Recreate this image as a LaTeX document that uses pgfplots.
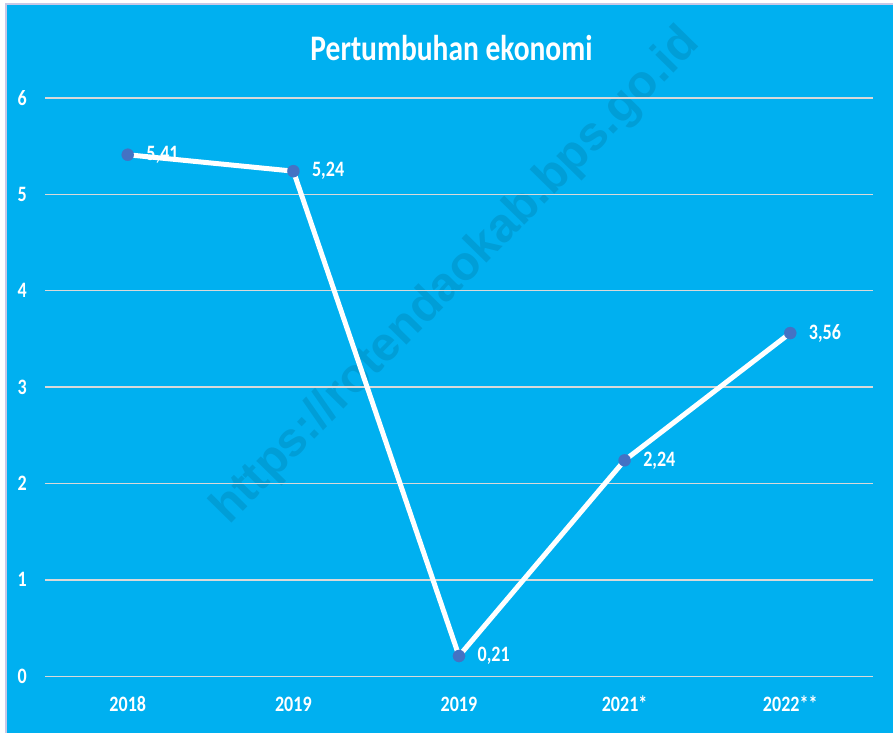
\documentclass[border=0pt]{standalone}
\usepackage{pgfplots}
\pgfplotsset{compat=1.18}
\usepackage{fontspec}
\setmainfont{Carlito}[FakeStretch=0.82]
\newfontfamily\wmfont{Liberation Sans}
\definecolor{bgblue}{RGB}{0,176,240}
\definecolor{markblue}{RGB}{68,114,196}
\definecolor{gridgray}{RGB}{217,217,217}
\definecolor{frame}{RGB}{200,200,230}
\begin{document}
\begin{tikzpicture}[x=0.75pt,y=0.75pt]
\fill[white] (0,0) rectangle (894,734);
\fill[bgblue] (6,0) rectangle (894,730);
\draw[frame, line width=1.5pt] (6,0) -- (6,730) -- (894,730);
\node[rotate=45.5, text=black, opacity=0.1, font=\wmfont\bfseries\fontsize{36}{40}\selectfont] at (457,457) {https://rotendaokab.bps.go.id};
\node[text=white, font=\bfseries\fontsize{27}{30}\selectfont] at (452,686) {Pertumbuhan ekonomi};
\useasboundingbox (0,0) rectangle (894,734);
\begin{axis}[
  at={(33.75pt,42.75pt)}, anchor=south west,
  scale only axis,
  width=621.75pt, height=434.25pt,
  xmin=-0.5, xmax=4.5, ymin=0, ymax=6,
  xtick={0,1,2,3,4},
  xticklabels={2018,2019,2019,2021*,2022**},
  ytick={0,1,2,3,4,5,6},
  axis line style={draw=none},
  major tick style={draw=none},
  ymajorgrids,
  grid style={gridgray, line width=1.1pt},
  /pgf/number format/assume math mode=true,
  ticklabel style={text=white, font=\bfseries\fontsize{16.5}{18}\selectfont},
  xticklabel style={anchor=center, yshift=-21pt},
  yticklabel style={anchor=center, xshift=-17pt},
  clip=false,
]
\addplot[white, line width=3.75pt, mark=*, mark size=4.6pt,
  mark options={fill=markblue, draw=markblue, line width=0.1pt, solid},
  nodes near coords={\pgfmathprintnumber[fixed,fixed zerofill,precision=2,use comma]{\pgfplotspointmeta}},
  every node near coord/.append style={anchor=west, inner sep=0pt, xshift=14pt, text=white, font=\bfseries\fontsize{16.5}{18}\selectfont},
] coordinates {(0,5.41) (1,5.24) (2,0.21) (3,2.24) (4,3.56)};
\end{axis}
\end{tikzpicture}
\end{document}
